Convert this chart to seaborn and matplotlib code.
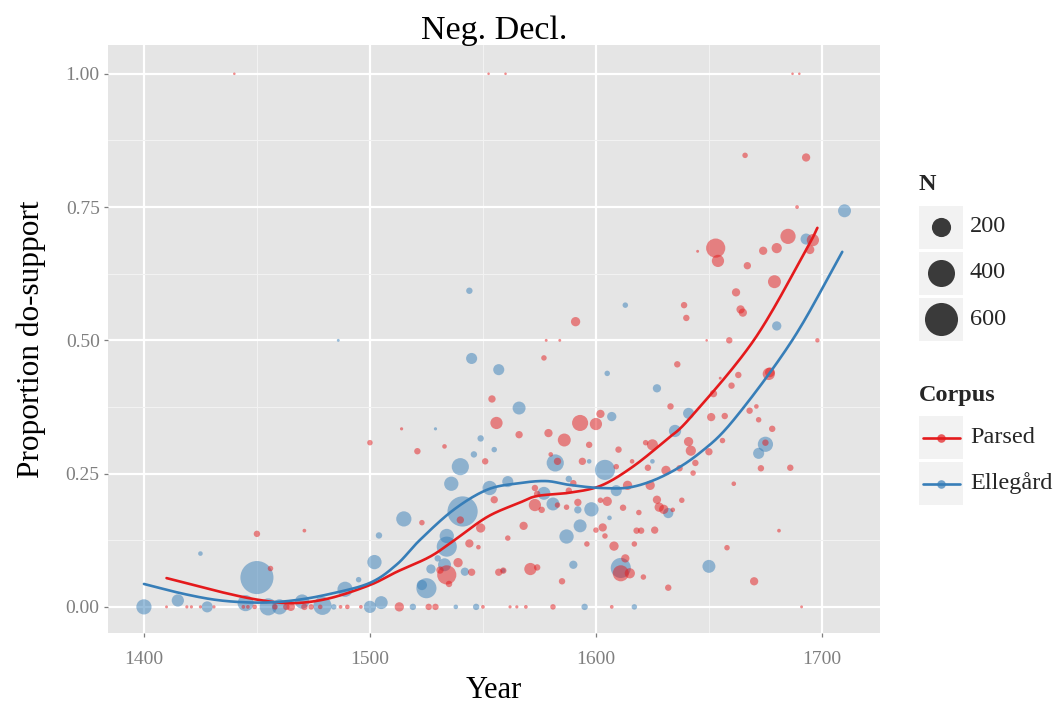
import numpy as np
import pandas as pd
import matplotlib
matplotlib.use("Agg")
import matplotlib.pyplot as plt
from matplotlib.patches import Rectangle
import seaborn as sns

# ---- Parsed corpus: year, proportion of do-support, number of tokens ----
parsed_year = [1440, 1552.5, 1560, 1687, 1690, 1693, 1666, 1689,
               1653, 1685, 1696, 1680, 1674, 1654, 1694.7, 1645, 1667, 1679, 1662, 1639,
               1640, 1664, 1665, 1649, 1659, 1698, 1636, 1655, 1663, 1676.5, 1677, 1660,
               1652, 1633, 1651, 1657, 1668, 1671, 1672,
               1591, 1578, 1584, 1577, 1554, 1556, 1593, 1600, 1602,
               1500, 1514, 1521, 1450, 1471, 1523,
               1566, 1579, 1586, 1597, 1533, 1551, 1580, 1583, 1594, 1555, 1573, 1574,
               1590, 1588, 1573, 1576, 1583, 1587, 1592, 1602,
               1540, 1549, 1568, 1600, 1561,
               1625, 1622, 1610, 1641, 1642, 1650, 1656, 1678, 1675, 1673, 1686, 1661,
               1681, 1616, 1623, 1631, 1637, 1644, 1643, 1609, 1614, 1624, 1605, 1612,
               1619, 1627, 1638, 1628, 1630, 1634, 1603, 1618, 1620, 1626, 1604,
               1596, 1608, 1617, 1613, 1611, 1615, 1621, 1632, 1559, 1571, 1574, 1585,
               1562, 1565, 1569, 1581, 1607,
               1658, 1670, 1691,
               1513, 1526, 1529, 1550, 1487, 1490, 1496, 1534, 1531, 1539, 1545, 1544,
               1548, 1557, 1535,
               1410, 1419, 1421, 1425, 1431, 1456, 1465, 1444, 1446, 1449, 1458, 1463,
               1471, 1474, 1478]
parsed_prop = [1.0, 1.0, 1.0, 1.0, 1.0, 0.843, 0.847, 0.75,
               0.673, 0.695, 0.688, 0.673, 0.668, 0.649, 0.67, 0.667, 0.64, 0.61, 0.59, 0.566,
               0.542, 0.558, 0.552, 0.5, 0.5, 0.5, 0.455, 0.429, 0.435, 0.437, 0.44, 0.415,
               0.40, 0.376, 0.356, 0.358, 0.368, 0.376, 0.351,
               0.535, 0.5, 0.5, 0.467, 0.39, 0.345, 0.345, 0.343, 0.362,
               0.308, 0.334, 0.292, 0.137, 0.143, 0.158,
               0.323, 0.326, 0.313, 0.304, 0.301, 0.273, 0.286, 0.273, 0.273, 0.201, 0.223, 0.212,
               0.232, 0.218, 0.191, 0.182, 0.191, 0.187, 0.196, 0.2,
               0.163, 0.148, 0.152, 0.144, 0.129,
               0.304, 0.308, 0.295, 0.31, 0.293, 0.291, 0.312, 0.334, 0.308, 0.26, 0.261, 0.231,
               0.143, 0.273, 0.261, 0.256, 0.26, 0.27, 0.251, 0.263, 0.228, 0.228, 0.198, 0.186,
               0.177, 0.201, 0.2, 0.187, 0.183, 0.182, 0.149, 0.143, 0.143, 0.144, 0.133,
               0.118, 0.114, 0.118, 0.091, 0.063, 0.063, 0.056, 0.036, 0.068, 0.071, 0.074, 0.048,
               0.0, 0.0, 0.0, 0.0, 0.0,
               0.111, 0.048, 0.0,
               0.0, 0.0, 0.0, 0.0, 0.0, 0.0, 0.0, 0.06, 0.069, 0.083, 0.065, 0.119,
               0.112, 0.065, 0.043,
               0.0, 0.0, 0.0, 0.0, 0.0, 0.072, 0.0, 0.0, 0.0, 0.0, 0.0, 0.0,
               0.0, 0.0, 0.0]
parsed_n = [1, 1, 1, 1, 1, 35, 14, 5,
            200, 125, 80, 55, 35, 80, 40, 2, 27, 90, 35, 20,
            20, 35, 35, 1, 20, 8, 20, 2, 20, 80, 50, 20,
            27, 20, 35, 20, 20, 9, 14,
            45, 2, 2, 14, 27, 80, 140, 80, 35,
            14, 3, 20, 20, 5, 14,
            27, 35, 90, 20, 9, 20, 9, 27, 27, 27, 20, 20,
            20, 20, 80, 20, 14, 14, 27, 14,
            27, 45, 35, 14, 14,
            65, 14, 20, 45, 55, 27, 14, 20, 20, 20, 20, 9,
            5, 9, 20, 45, 20, 20, 14, 14, 45, 45, 45, 20,
            14, 35, 14, 45, 45, 9, 35, 20, 20, 27, 14,
            14, 45, 14, 35, 140, 55, 14, 20, 20, 80, 20, 20,
            3, 3, 5, 14, 5,
            14, 35, 2,
            45, 20, 20, 5, 5, 9, 5, 200, 27, 45, 27, 35,
            9, 27, 20,
            2, 3, 3, 3, 3, 14, 35, 5, 5, 9, 14, 20,
            20, 14, 9]

# ---- Ellegård corpus ----
ell_year = [1710, 1693, 1680, 1627, 1641,
            1544, 1613, 1545, 1557, 1605, 1566, 1607,
            1486, 1515, 1504, 1425,
            1529, 1549, 1546, 1555, 1582, 1597, 1540, 1536, 1553, 1561, 1577, 1588,
            1604, 1581, 1592, 1598, 1541, 1534, 1593, 1587,
            1635, 1675, 1672, 1625, 1609, 1632, 1606,
            1611, 1559, 1590, 1595, 1617,
            1650,
            1502, 1495, 1489, 1505, 1500, 1519, 1525, 1523, 1538, 1547, 1527, 1530,
            1533, 1542, 1534, 1484,
            1400, 1415, 1428, 1450, 1445, 1455, 1460, 1470, 1479]
ell_prop = [0.743, 0.69, 0.527, 0.41, 0.363,
            0.593, 0.566, 0.466, 0.445, 0.438, 0.373, 0.357,
            0.5, 0.165, 0.134, 0.1,
            0.334, 0.316, 0.286, 0.295, 0.27, 0.273, 0.263, 0.231, 0.223, 0.235, 0.213, 0.24,
            0.257, 0.193, 0.182, 0.183, 0.179, 0.133, 0.152, 0.132,
            0.33, 0.305, 0.288, 0.273, 0.218, 0.176, 0.167,
            0.073, 0.068, 0.079, 0.0, 0.0,
            0.076,
            0.084, 0.051, 0.033, 0.008, 0.0, 0.0, 0.035, 0.041, 0.0, 0.0, 0.071, 0.091,
            0.079, 0.066, 0.113, 0.0,
            0.0, 0.012, 0.0, 0.055, 0.007, 0.0, 0.0, 0.01, 0.002]
ell_n = [90, 65, 45, 35, 65,
         20, 14, 65, 65, 14, 90, 45,
         2, 125, 20, 9,
         3, 20, 20, 14, 160, 9, 160, 110, 110, 65, 90, 20,
         220, 90, 27, 110, 500, 110, 90, 110,
         80, 125, 65, 9, 65, 55, 9,
         220, 9, 35, 20, 14,
         90,
         110, 14, 125, 90, 80, 20, 220, 55, 9, 20, 45, 20,
         90, 35, 220, 14,
         125, 80, 65, 600, 140, 160, 125, 110, 180]

# ---- smoothed trend lines (loess fits) ----
parsed_fit_year = [1410, 1434, 1451, 1466, 1482, 1500, 1512, 1526.5, 1537, 1552, 1566,
                   1574, 1588, 1602, 1616, 1631, 1642, 1670, 1693, 1698]
parsed_fit_prop = [0.054, 0.028, 0.013, 0.007, 0.016, 0.041, 0.066, 0.094, 0.124, 0.169,
                   0.195, 0.208, 0.214, 0.227, 0.262, 0.313, 0.356, 0.501, 0.67, 0.711]
ell_fit_year = [1400, 1418, 1434, 1451, 1466, 1482, 1500, 1512, 1522, 1537, 1552, 1566,
                1578, 1588, 1602, 1616, 1631, 1646, 1661, 1687, 1709]
ell_fit_prop = [0.043, 0.024, 0.012, 0.008, 0.012, 0.024, 0.045, 0.08, 0.125, 0.182, 0.22,
                0.232, 0.236, 0.229, 0.223, 0.225, 0.248, 0.289, 0.351, 0.501, 0.666]

corpora = ["Parsed", "Ellegård"]
colors = {"Parsed": "#E41A1C", "Ellegård": "#377EB8"}
size_breaks = [200, 400, 600]


def catmull_rom(xk, yk, per_seg=24):
    p = np.column_stack([xk, yk]).astype(float)
    p = np.vstack([2 * p[0] - p[1], p, 2 * p[-1] - p[-2]])
    t = np.linspace(0, 1, per_seg, endpoint=False)[:, None]
    out = []
    for i in range(1, len(p) - 2):
        p0, p1, p2, p3 = p[i - 1], p[i], p[i + 1], p[i + 2]
        seg = 0.5 * (2 * p1 + (-p0 + p2) * t + (2 * p0 - 5 * p1 + 4 * p2 - p3) * t ** 2
                     + (-p0 + 3 * p1 - 3 * p2 + p3) * t ** 3)
        out.append(seg)
    out.append(p[-2][None, :])
    out = np.vstack(out)
    return out[:, 0], out[:, 1]


points = pd.concat([
    pd.DataFrame({"Year": ell_year, "Prop": ell_prop, "N": ell_n, "Corpus": "Ellegård"}),
    pd.DataFrame({"Year": parsed_year, "Prop": parsed_prop, "N": parsed_n, "Corpus": "Parsed"}),
], ignore_index=True)

sns.set_theme(style="darkgrid")
plt.rcParams["font.family"] = ["Liberation Serif", "DejaVu Serif"]

W, H = 1064, 705
fig = plt.figure(figsize=(W / 100, H / 100), dpi=100)
fig.patch.set_facecolor("white")
ax = fig.add_axes([108 / W, 1 - 633 / H, (880 - 108) / W, (633 - 45) / H])
ax.set_facecolor("#E5E5E5")

SIZES = (2.5, 614)
SIZE_NORM = (0, 650)

sns.scatterplot(data=points, x="Year", y="Prop", hue="Corpus", palette=colors,
                size="N", sizes=SIZES, size_norm=SIZE_NORM, alpha=0.5,
                linewidth=0, legend=False, ax=ax, zorder=3)

for name, fx, fy in [("Parsed", parsed_fit_year, parsed_fit_prop),
                     ("Ellegård", ell_fit_year, ell_fit_prop)]:
    cx, cy = catmull_rom(fx, fy)
    sns.lineplot(x=cx, y=cy, sort=False, estimator=None, color=colors[name],
                 linewidth=1.9, ax=ax, zorder=4)

ax.set_xlim(1384.1, 1725.7)
ax.set_ylim(-0.049, 1.054)
ax.set_xticks([1400, 1500, 1600, 1700])
ax.set_xticks([1450, 1550, 1650], minor=True)
ax.set_yticks([0, 0.25, 0.5, 0.75, 1.0])
ax.set_yticklabels(["0.00", "0.25", "0.50", "0.75", "1.00"])
ax.set_yticks([0.125, 0.375, 0.625, 0.875], minor=True)
ax.grid(which="major", color="white", linewidth=1.6)
ax.grid(which="minor", color="#F2F2F2", linewidth=0.8)
ax.set_axisbelow(True)
for s in ax.spines.values():
    s.set_visible(False)
ax.tick_params(which="major", length=3, width=0.9, color="#7F7F7F",
               labelcolor="#7F7F7F", labelsize=14, bottom=True, left=True)
ax.tick_params(axis="x", which="major", pad=10)
ax.tick_params(axis="y", which="major", pad=3)
ax.tick_params(which="minor", length=0)
ax.set_xlabel("Year", fontsize=22, color="black", labelpad=6)
ax.set_ylabel("Proportion do-support", fontsize=22.5, color="black", labelpad=14)
ax.set_title("Neg. Decl.", fontsize=24.5, color="black", pad=4)

# ---- legends drawn in pixel space ----
lg = fig.add_axes([0, 0, 1, 1], facecolor="none")
lg.set_xlim(0, W)
lg.set_ylim(H, 0)
lg.axis("off")


def size_to_s(n):
    return SIZES[0] + (SIZES[1] - SIZES[0]) * (n - SIZE_NORM[0]) / (SIZE_NORM[1] - SIZE_NORM[0])


lg.text(919, 185, "N", fontsize=17.5, fontweight="bold", va="center", ha="left")
for (top, bot), n in zip([(205.5, 248.5), (251.5, 294.5), (297.5, 341)], size_breaks):
    lg.add_patch(Rectangle((919, top), 44, bot - top, facecolor="#F2F2F2", edgecolor="none"))
    cy = (top + bot) / 2
    lg.scatter([941], [cy], s=size_to_s(n), color="#3a3a3a", linewidth=0, zorder=3)
    lg.text(970, cy, str(n), fontsize=17.5, va="center", ha="left")

lg.text(919, 395, "Corpus", fontsize=17.5, fontweight="bold", va="center", ha="left")
for (top, bot), name in zip([(416, 459), (462, 505)], corpora):
    lg.add_patch(Rectangle((919, top), 44, bot - top, facecolor="#F2F2F2", edgecolor="none"))
    cy = (top + bot) / 2
    lg.plot([922.5, 959.5], [cy, cy], color=colors[name], linewidth=1.9, zorder=3)
    lg.scatter([941], [cy], s=38, color=colors[name], alpha=0.7, linewidth=0, zorder=4)
    lg.text(970, cy, name, fontsize=17.5, va="center", ha="left")

fig.savefig("out.png", dpi=100)
